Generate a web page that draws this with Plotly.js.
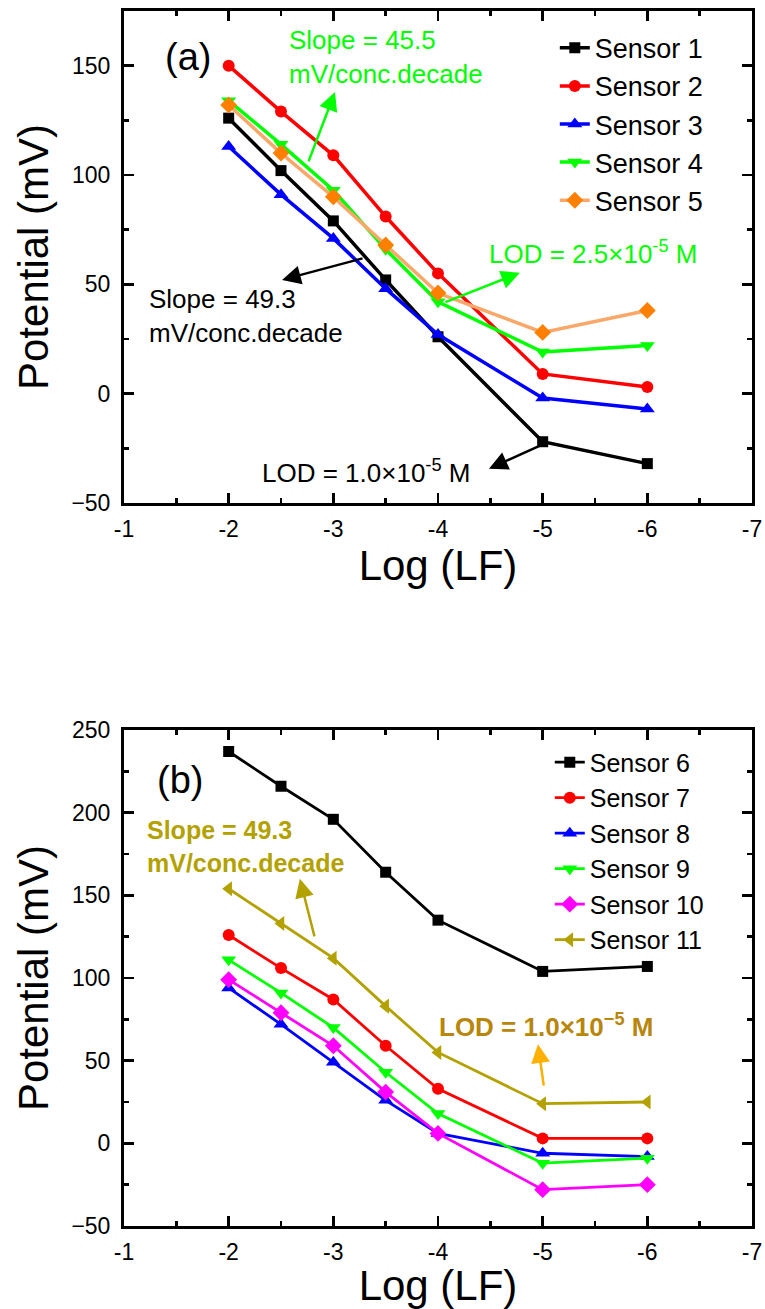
<!DOCTYPE html>
<html>
<head>
<meta charset="utf-8">
<script src="https://cdn.plot.ly/plotly-3.0.1.min.js"></script>
<style>
html,body{margin:0;padding:0;background:#fff;}
#chart{width:765px;height:1309px;}
</style>
</head>
<body>
<div id="chart"></div>
<script>
// ---- data ----
const logLF = [-2, -2.5, -3, -3.5, -4, -5, -6];

const namesA = ["Sensor 1", "Sensor 2", "Sensor 3", "Sensor 4", "Sensor 5"];
const sensor1 = [126, 102, 79, 52, 26, -22, -32];
const sensor2 = [150, 129, 109, 81, 55, 9, 3];
const sensor3 = [113, 91, 71, 48, 27, -2, -7];
const sensor4 = [134, 114, 93, 66, 42, 19, 22];
const sensor5 = [132, 110, 90, 68, 46, 28, 38];

const namesB = ["Sensor 6", "Sensor 7", "Sensor 8", "Sensor 9", "Sensor 10", "Sensor 11"];
const sensor6 = [237, 216, 196, 164, 135, 104, 107];
const sensor7 = [126, 106, 87, 59, 33, 3, 3];
const sensor8 = [94, 72, 49, 26, 6, -6, -8];
const sensor9 = [111, 91, 70, 43, 18, -12, -9];
const sensor10 = [99, 79, 59, 31, 6, -28, -25];
const sensor11 = [154, 133, 112, 83, 55, 24, 25];

const xTickVals = [-1, -2, -3, -4, -5, -6, -7];
const xTickText = ["-1", "-2", "-3", "-4", "-5", "-6", "-7"];

// ---- styles ----
const FONT = "Arial, 'Liberation Sans', sans-serif";
const stylesA = [
  {line: "#000000", marker: "#000000", symbol: "square", size: 11},
  {line: "#FF0000", marker: "#FF0000", symbol: "circle", size: 12},
  {line: "#0000FF", marker: "#0000FF", symbol: "triangle-up", size: 13},
  {line: "#00FF00", marker: "#00FF00", symbol: "triangle-down", size: 13},
  {line: "#F9A86A", marker: "#FF8000", symbol: "diamond", size: 13}
];
const stylesB = [
  {line: "#000000", marker: "#000000", symbol: "square", size: 11},
  {line: "#FF0000", marker: "#FF0000", symbol: "circle", size: 12},
  {line: "#0000FF", marker: "#0000FF", symbol: "triangle-up", size: 13},
  {line: "#00FF00", marker: "#00FF00", symbol: "triangle-down", size: 13},
  {line: "#FF00FF", marker: "#FF00FF", symbol: "diamond", size: 13},
  {line: "#B3A100", marker: "#B3A100", symbol: "triangle-left", size: 13}
];

const seriesA = [sensor1, sensor2, sensor3, sensor4, sensor5];
const seriesB = [sensor6, sensor7, sensor8, sensor9, sensor10, sensor11];

const traces = [];
seriesA.forEach((ys, i) => {
  traces.push({
    x: logLF, y: ys, name: namesA[i], type: "scatter", mode: "lines+markers",
    xaxis: "x", yaxis: "y", legend: "legend",
    line: {color: stylesA[i].line, width: 3.5},
    marker: {color: stylesA[i].marker, symbol: stylesA[i].symbol, size: stylesA[i].size}
  });
});
seriesB.forEach((ys, i) => {
  traces.push({
    x: logLF, y: ys, name: namesB[i], type: "scatter", mode: "lines+markers",
    xaxis: "x2", yaxis: "y2", legend: "legend2",
    line: {color: stylesB[i].line, width: 2.8},
    marker: {color: stylesB[i].marker, symbol: stylesB[i].symbol, size: stylesB[i].size}
  });
});

function xAxis(anchor) {
  return {
    anchor: anchor, domain: [0, 1], range: [-1, -7],
    tickmode: "array", tickvals: xTickVals, ticktext: xTickText,
    ticks: "inside", ticklen: 10, tickwidth: 2.5, tickcolor: "#000",
    minor: {ticks: "inside", dtick: 0.5, ticklen: 5, tickwidth: 2.5, tickcolor: "#000"},
    showline: true, linewidth: 3, linecolor: "#000", mirror: "allticks",
    showgrid: false, zeroline: false,
    tickfont: {family: FONT, size: 23, color: "#000"},
    ticklabelstandoff: 3,
    title: {text: "Log (LF)", font: {family: FONT, size: 42, color: "#000"}, standoff: 2}
  };
}
function yAxis(anchor, domain, range, dtick) {
  return {
    anchor: anchor, domain: domain, range: range, dtick: dtick, tick0: 0,
    ticks: "inside", ticklen: 10, tickwidth: 2.5, tickcolor: "#000",
    minor: {ticks: "inside", dtick: 25, ticklen: 5, tickwidth: 2.5, tickcolor: "#000"},
    showline: true, linewidth: 3, linecolor: "#000", mirror: "allticks",
    showgrid: false, zeroline: false,
    tickfont: {family: FONT, size: 23, color: "#000"},
    ticklabelstandoff: 6,
    title: {text: "Potential (mV)", font: {family: FONT, size: 42, color: "#000"}, standoff: 10}
  };
}

const arrowStyle = {showarrow: true, arrowhead: 2, arrowsize: 1.5, arrowwidth: 2.5, text: ""};

const annotations = [
  // panel a
  {xref: "x", yref: "y", x: -1.61, y: 154, text: "(a)", showarrow: false,
   font: {family: FONT, size: 38, color: "#000"}},
  {xref: "x", yref: "y", x: -2.557, y: 154, xanchor: "left", align: "left",
   text: "Slope = 45.5<br>mV/conc.decade", showarrow: false,
   font: {family: FONT, size: 26, color: "#00FF00"}},
  Object.assign({xref: "x", yref: "y", x: -3.016, y: 138, ax: -27, ay: 71, arrowcolor: "#00FF00"}, arrowStyle),
  {xref: "x", yref: "y", x: -1.22, y: 35.5, xanchor: "left", align: "left",
   text: "Slope = 49.3<br>mV/conc.decade", showarrow: false,
   font: {family: FONT, size: 26, color: "#000"}},
  Object.assign({xref: "x", yref: "y", x: -2.51, y: 52, ax: 82, ay: -22, arrowcolor: "#000"}, arrowStyle),
  {xref: "x", yref: "y", x: -4.468, y: 64.5, xanchor: "left",
   text: "LOD = 2.5×10<sup>-5</sup> M", showarrow: false,
   font: {family: FONT, size: 26, color: "#00FF00"}},
  Object.assign({xref: "x", yref: "y", x: -4.783, y: 55.3, ax: -76, ay: 30, arrowcolor: "#00FF00"}, arrowStyle),
  {xref: "x", yref: "y", x: -2.30, y: -35.7, xanchor: "left",
   text: "LOD = 1.0×10<sup>-5</sup> M", showarrow: false,
   font: {family: FONT, size: 26, color: "#000"}},
  Object.assign({xref: "x", yref: "y", x: -4.487, y: -34.4, ax: 57, ay: -26, arrowcolor: "#000"}, arrowStyle),
  // panel b
  {xref: "x2", yref: "y2", x: -1.535, y: 220, text: "(b)", showarrow: false,
   font: {family: FONT, size: 38, color: "#000"}},
  {xref: "x2", yref: "y2", x: -1.20, y: 179.4, xanchor: "left", align: "left",
   text: "<b>Slope = 49.3<br>mV/conc.decade</b>", showarrow: false,
   font: {family: FONT, size: 25, color: "#B3A100"}},
  Object.assign({xref: "x2", yref: "y2", x: -2.68, y: 160, ax: 15, ay: 59, arrowcolor: "#B3A100"}, arrowStyle),
  {xref: "x2", yref: "y2", x: -3.99, y: 71.5, xanchor: "left",
   text: "<b>LOD = 1.0×10<sup>−5</sup> M</b>", showarrow: false,
   font: {family: FONT, size: 26, color: "#B8860B"}},
  Object.assign({xref: "x2", yref: "y2", x: -4.955, y: 60, ax: 6, ay: 43, arrowcolor: "#FFB000"}, arrowStyle)
];

const layout = {
  width: 765, height: 1309,
  margin: {l: 124, r: 13, t: 11, b: 83},
  paper_bgcolor: "#fff", plot_bgcolor: "#fff",
  font: {family: FONT, color: "#000"},
  showlegend: true,
  xaxis: xAxis("y"),
  yaxis: yAxis("x", [0.5951, 1], [-50, 175], 50),
  xaxis2: xAxis("y2"),
  yaxis2: yAxis("x2", [0, 0.4082], [-50, 250], 50),
  legend: {x: 0.686, y: 0.9895, xanchor: "left", yanchor: "top",
    bgcolor: "rgba(0,0,0,0)", font: {family: FONT, size: 27, color: "#000"}},
  legend2: {x: 0.678, y: 0.4005, xanchor: "left", yanchor: "top",
    bgcolor: "rgba(0,0,0,0)", font: {family: FONT, size: 25, color: "#000"}},
  annotations: annotations
};

Plotly.newPlot("chart", traces, layout, {displayModeBar: false, staticPlot: true});
</script>
</body>
</html>
